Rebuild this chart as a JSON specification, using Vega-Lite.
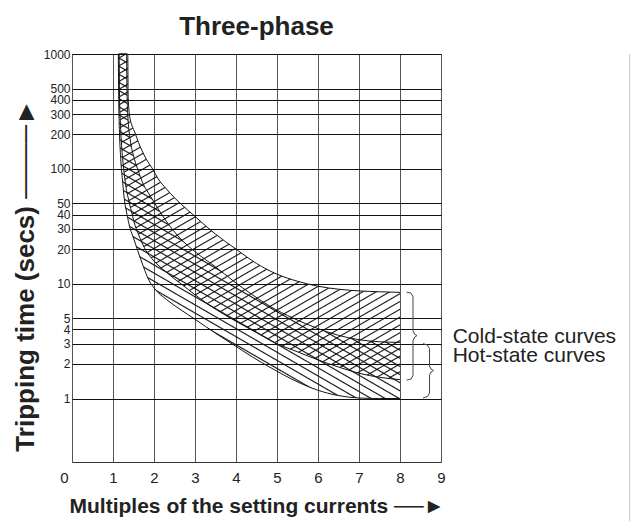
{
"$schema":"https://vega.github.io/schema/vega-lite/v6.json",
"width":369,"height":408,
"autosize":"none",
"padding":{"left":72,"top":54,"right":191,"bottom":59},
"background":"white",
"config":{"view":{"stroke":"#333","strokeWidth":1},"font":"Liberation Sans"},
"title":{"text":"Three-phase","fontSize":26,"fontWeight":"bold","color":"#222","frame":"group","anchor":"middle","baseline":"alphabetic","offset":-13},
"datasets":{
"bands":[
{"band":"cold","x":1.15,"hi":1000,"lo":1000},
{"band":"cold","x":1.16,"hi":1000,"lo":400},
{"band":"cold","x":1.18,"hi":1000,"lo":250},
{"band":"cold","x":1.21,"hi":1000,"lo":160},
{"band":"cold","x":1.26,"hi":1000,"lo":100},
{"band":"cold","x":1.33,"hi":1000,"lo":65},
{"band":"cold","x":1.36,"hi":1000,"lo":58},
{"band":"cold","x":1.37,"hi":420,"lo":56},
{"band":"cold","x":1.40,"hi":300,"lo":50},
{"band":"cold","x":1.46,"hi":240,"lo":41},
{"band":"cold","x":1.54,"hi":205,"lo":32},
{"band":"cold","x":1.62,"hi":170,"lo":27},
{"band":"cold","x":1.70,"hi":146,"lo":23},
{"band":"cold","x":1.82,"hi":120,"lo":19},
{"band":"cold","x":1.95,"hi":102,"lo":16.5},
{"band":"cold","x":2.10,"hi":82,"lo":14.5},
{"band":"cold","x":2.30,"hi":67,"lo":12.6},
{"band":"cold","x":2.50,"hi":56,"lo":11},
{"band":"cold","x":2.67,"hi":49,"lo":9.9},
{"band":"cold","x":3.00,"hi":38.5,"lo":8.0},
{"band":"cold","x":3.50,"hi":27,"lo":6.0},
{"band":"cold","x":4.00,"hi":20,"lo":4.7},
{"band":"cold","x":4.50,"hi":15,"lo":3.75},
{"band":"cold","x":5.00,"hi":12.1,"lo":3.0},
{"band":"cold","x":5.50,"hi":10.5,"lo":2.55},
{"band":"cold","x":6.00,"hi":9.5,"lo":2.17},
{"band":"cold","x":6.50,"hi":8.95,"lo":1.88},
{"band":"cold","x":7.00,"hi":8.65,"lo":1.66},
{"band":"cold","x":7.50,"hi":8.5,"lo":1.53},
{"band":"cold","x":8.00,"hi":8.4,"lo":1.46},
{"band":"hot","x":1.13,"hi":1000,"lo":1000},
{"band":"hot","x":1.14,"hi":1000,"lo":400},
{"band":"hot","x":1.16,"hi":1000,"lo":200},
{"band":"hot","x":1.19,"hi":1000,"lo":120},
{"band":"hot","x":1.23,"hi":1000,"lo":80},
{"band":"hot","x":1.29,"hi":1000,"lo":50},
{"band":"hot","x":1.33,"hi":1000,"lo":42},
{"band":"hot","x":1.34,"hi":500,"lo":40},
{"band":"hot","x":1.36,"hi":300,"lo":37},
{"band":"hot","x":1.42,"hi":180,"lo":30},
{"band":"hot","x":1.50,"hi":130,"lo":25},
{"band":"hot","x":1.60,"hi":100,"lo":19.5},
{"band":"hot","x":1.75,"hi":72,"lo":13.8},
{"band":"hot","x":1.86,"hi":62,"lo":11},
{"band":"hot","x":2.02,"hi":50,"lo":9.0},
{"band":"hot","x":2.30,"hi":35,"lo":7.3},
{"band":"hot","x":2.63,"hi":25,"lo":6.0},
{"band":"hot","x":3.00,"hi":19,"lo":4.9},
{"band":"hot","x":3.50,"hi":14,"lo":3.7},
{"band":"hot","x":3.93,"hi":10.6,"lo":2.95},
{"band":"hot","x":4.40,"hi":8.0,"lo":2.3},
{"band":"hot","x":4.83,"hi":6.35,"lo":1.87},
{"band":"hot","x":5.40,"hi":5.0,"lo":1.45},
{"band":"hot","x":5.97,"hi":4.1,"lo":1.19},
{"band":"hot","x":6.50,"hi":3.55,"lo":1.06},
{"band":"hot","x":7.00,"hi":3.25,"lo":1.01},
{"band":"hot","x":7.50,"hi":3.12,"lo":1.0},
{"band":"hot","x":8.00,"hi":3.08,"lo":1.0}
],
"braces":[
{"b":"cold","i":1,"x":8.159,"t":8.44},
{"b":"cold","i":2,"x":8.268,"t":8.27},
{"b":"cold","i":3,"x":8.317,"t":7.71},
{"b":"cold","i":4,"x":8.317,"t":3.90},
{"b":"cold","i":5,"x":8.354,"t":3.64},
{"b":"cold","i":6,"x":8.415,"t":3.53},
{"b":"cold","i":7,"x":8.354,"t":3.42},
{"b":"cold","i":8,"x":8.317,"t":3.19},
{"b":"cold","i":9,"x":8.317,"t":1.585},
{"b":"cold","i":10,"x":8.268,"t":1.477},
{"b":"cold","i":11,"x":8.159,"t":1.448},
{"b":"hot","i":1,"x":8.561,"t":3.008},
{"b":"hot","i":2,"x":8.671,"t":2.919},
{"b":"hot","i":3,"x":8.720,"t":2.722},
{"b":"hot","i":4,"x":8.720,"t":1.918},
{"b":"hot","i":5,"x":8.756,"t":1.805},
{"b":"hot","i":6,"x":8.817,"t":1.752},
{"b":"hot","i":7,"x":8.756,"t":1.700},
{"b":"hot","i":8,"x":8.720,"t":1.601},
{"b":"hot","i":9,"x":8.720,"t":1.116},
{"b":"hot","i":10,"x":8.671,"t":1.041},
{"b":"hot","i":11,"x":8.561,"t":1.010}
],
"labels":[
{"label":"Cold-state curves","x":9.285,"t":3.04},
{"label":"Hot-state curves","x":9.285,"t":2.08}
],
"edge":[{"x":13.6,"t":0.08,"t2":1000}]
},
"layer":[
{"data":{"name":"bands"},
 "transform":[{"filter":"datum.band === 'cold'"}],
 "mark":{"type":"area","interpolate":"monotone","color":{"gradient":"linear","x1":0,"y1":0,"x2":0.598,"y2":1.2,"stops":[
{"offset":0.0055,"color":"rgba(0,0,0,0)"},{"offset":0.008,"color":"#111"},{"offset":0.0105,"color":"rgba(0,0,0,0)"},
{"offset":0.0215,"color":"rgba(0,0,0,0)"},{"offset":0.024,"color":"#111"},{"offset":0.0265,"color":"rgba(0,0,0,0)"},
{"offset":0.0375,"color":"rgba(0,0,0,0)"},{"offset":0.04,"color":"#111"},{"offset":0.0425,"color":"rgba(0,0,0,0)"},
{"offset":0.0535,"color":"rgba(0,0,0,0)"},{"offset":0.056,"color":"#111"},{"offset":0.0585,"color":"rgba(0,0,0,0)"},
{"offset":0.0695,"color":"rgba(0,0,0,0)"},{"offset":0.072,"color":"#111"},{"offset":0.0745,"color":"rgba(0,0,0,0)"},
{"offset":0.0855,"color":"rgba(0,0,0,0)"},{"offset":0.088,"color":"#111"},{"offset":0.0905,"color":"rgba(0,0,0,0)"},
{"offset":0.1015,"color":"rgba(0,0,0,0)"},{"offset":0.104,"color":"#111"},{"offset":0.1065,"color":"rgba(0,0,0,0)"},
{"offset":0.1175,"color":"rgba(0,0,0,0)"},{"offset":0.12,"color":"#111"},{"offset":0.1225,"color":"rgba(0,0,0,0)"},
{"offset":0.1335,"color":"rgba(0,0,0,0)"},{"offset":0.136,"color":"#111"},{"offset":0.1385,"color":"rgba(0,0,0,0)"},
{"offset":0.1495,"color":"rgba(0,0,0,0)"},{"offset":0.152,"color":"#111"},{"offset":0.1545,"color":"rgba(0,0,0,0)"},
{"offset":0.1655,"color":"rgba(0,0,0,0)"},{"offset":0.168,"color":"#111"},{"offset":0.1705,"color":"rgba(0,0,0,0)"},
{"offset":0.1815,"color":"rgba(0,0,0,0)"},{"offset":0.184,"color":"#111"},{"offset":0.1865,"color":"rgba(0,0,0,0)"},
{"offset":0.1975,"color":"rgba(0,0,0,0)"},{"offset":0.2,"color":"#111"},{"offset":0.2025,"color":"rgba(0,0,0,0)"},
{"offset":0.2135,"color":"rgba(0,0,0,0)"},{"offset":0.216,"color":"#111"},{"offset":0.2185,"color":"rgba(0,0,0,0)"},
{"offset":0.2295,"color":"rgba(0,0,0,0)"},{"offset":0.232,"color":"#111"},{"offset":0.2345,"color":"rgba(0,0,0,0)"},
{"offset":0.2455,"color":"rgba(0,0,0,0)"},{"offset":0.248,"color":"#111"},{"offset":0.2505,"color":"rgba(0,0,0,0)"},
{"offset":0.2615,"color":"rgba(0,0,0,0)"},{"offset":0.264,"color":"#111"},{"offset":0.2665,"color":"rgba(0,0,0,0)"},
{"offset":0.2775,"color":"rgba(0,0,0,0)"},{"offset":0.28,"color":"#111"},{"offset":0.2825,"color":"rgba(0,0,0,0)"},
{"offset":0.2935,"color":"rgba(0,0,0,0)"},{"offset":0.296,"color":"#111"},{"offset":0.2985,"color":"rgba(0,0,0,0)"},
{"offset":0.3095,"color":"rgba(0,0,0,0)"},{"offset":0.312,"color":"#111"},{"offset":0.3145,"color":"rgba(0,0,0,0)"},
{"offset":0.3255,"color":"rgba(0,0,0,0)"},{"offset":0.328,"color":"#111"},{"offset":0.3305,"color":"rgba(0,0,0,0)"},
{"offset":0.3415,"color":"rgba(0,0,0,0)"},{"offset":0.344,"color":"#111"},{"offset":0.3465,"color":"rgba(0,0,0,0)"},
{"offset":0.3575,"color":"rgba(0,0,0,0)"},{"offset":0.36,"color":"#111"},{"offset":0.3625,"color":"rgba(0,0,0,0)"},
{"offset":0.3735,"color":"rgba(0,0,0,0)"},{"offset":0.376,"color":"#111"},{"offset":0.3785,"color":"rgba(0,0,0,0)"},
{"offset":0.3895,"color":"rgba(0,0,0,0)"},{"offset":0.392,"color":"#111"},{"offset":0.3945,"color":"rgba(0,0,0,0)"},
{"offset":0.4055,"color":"rgba(0,0,0,0)"},{"offset":0.408,"color":"#111"},{"offset":0.4105,"color":"rgba(0,0,0,0)"},
{"offset":0.4215,"color":"rgba(0,0,0,0)"},{"offset":0.424,"color":"#111"},{"offset":0.4265,"color":"rgba(0,0,0,0)"},
{"offset":0.4375,"color":"rgba(0,0,0,0)"},{"offset":0.44,"color":"#111"},{"offset":0.4425,"color":"rgba(0,0,0,0)"},
{"offset":0.4535,"color":"rgba(0,0,0,0)"},{"offset":0.456,"color":"#111"},{"offset":0.4585,"color":"rgba(0,0,0,0)"},
{"offset":0.4695,"color":"rgba(0,0,0,0)"},{"offset":0.472,"color":"#111"},{"offset":0.4745,"color":"rgba(0,0,0,0)"},
{"offset":0.4855,"color":"rgba(0,0,0,0)"},{"offset":0.488,"color":"#111"},{"offset":0.4905,"color":"rgba(0,0,0,0)"},
{"offset":0.5015,"color":"rgba(0,0,0,0)"},{"offset":0.504,"color":"#111"},{"offset":0.5065,"color":"rgba(0,0,0,0)"},
{"offset":0.5175,"color":"rgba(0,0,0,0)"},{"offset":0.52,"color":"#111"},{"offset":0.5225,"color":"rgba(0,0,0,0)"},
{"offset":0.5335,"color":"rgba(0,0,0,0)"},{"offset":0.536,"color":"#111"},{"offset":0.5385,"color":"rgba(0,0,0,0)"},
{"offset":0.5495,"color":"rgba(0,0,0,0)"},{"offset":0.552,"color":"#111"},{"offset":0.5545,"color":"rgba(0,0,0,0)"},
{"offset":0.5655,"color":"rgba(0,0,0,0)"},{"offset":0.568,"color":"#111"},{"offset":0.5705,"color":"rgba(0,0,0,0)"},
{"offset":0.5815,"color":"rgba(0,0,0,0)"},{"offset":0.584,"color":"#111"},{"offset":0.5865,"color":"rgba(0,0,0,0)"},
{"offset":0.5975,"color":"rgba(0,0,0,0)"},{"offset":0.6,"color":"#111"},{"offset":0.6025,"color":"rgba(0,0,0,0)"},
{"offset":0.6135,"color":"rgba(0,0,0,0)"},{"offset":0.616,"color":"#111"},{"offset":0.6185,"color":"rgba(0,0,0,0)"},
{"offset":0.6295,"color":"rgba(0,0,0,0)"},{"offset":0.632,"color":"#111"},{"offset":0.6345,"color":"rgba(0,0,0,0)"},
{"offset":0.6455,"color":"rgba(0,0,0,0)"},{"offset":0.648,"color":"#111"},{"offset":0.6505,"color":"rgba(0,0,0,0)"},
{"offset":0.6615,"color":"rgba(0,0,0,0)"},{"offset":0.664,"color":"#111"},{"offset":0.6665,"color":"rgba(0,0,0,0)"},
{"offset":0.6775,"color":"rgba(0,0,0,0)"},{"offset":0.68,"color":"#111"},{"offset":0.6825,"color":"rgba(0,0,0,0)"},
{"offset":0.6935,"color":"rgba(0,0,0,0)"},{"offset":0.696,"color":"#111"},{"offset":0.6985,"color":"rgba(0,0,0,0)"},
{"offset":0.7095,"color":"rgba(0,0,0,0)"},{"offset":0.712,"color":"#111"},{"offset":0.7145,"color":"rgba(0,0,0,0)"},
{"offset":0.7255,"color":"rgba(0,0,0,0)"},{"offset":0.728,"color":"#111"},{"offset":0.7305,"color":"rgba(0,0,0,0)"},
{"offset":0.7415,"color":"rgba(0,0,0,0)"},{"offset":0.744,"color":"#111"},{"offset":0.7465,"color":"rgba(0,0,0,0)"},
{"offset":0.7575,"color":"rgba(0,0,0,0)"},{"offset":0.76,"color":"#111"},{"offset":0.7625,"color":"rgba(0,0,0,0)"},
{"offset":0.7735,"color":"rgba(0,0,0,0)"},{"offset":0.776,"color":"#111"},{"offset":0.7785,"color":"rgba(0,0,0,0)"},
{"offset":0.7895,"color":"rgba(0,0,0,0)"},{"offset":0.792,"color":"#111"},{"offset":0.7945,"color":"rgba(0,0,0,0)"},
{"offset":0.8055,"color":"rgba(0,0,0,0)"},{"offset":0.808,"color":"#111"},{"offset":0.8105,"color":"rgba(0,0,0,0)"},
{"offset":0.8215,"color":"rgba(0,0,0,0)"},{"offset":0.824,"color":"#111"},{"offset":0.8265,"color":"rgba(0,0,0,0)"},
{"offset":0.8375,"color":"rgba(0,0,0,0)"},{"offset":0.84,"color":"#111"},{"offset":0.8425,"color":"rgba(0,0,0,0)"},
{"offset":0.8535,"color":"rgba(0,0,0,0)"},{"offset":0.856,"color":"#111"},{"offset":0.8585,"color":"rgba(0,0,0,0)"},
{"offset":0.8695,"color":"rgba(0,0,0,0)"},{"offset":0.872,"color":"#111"},{"offset":0.8745,"color":"rgba(0,0,0,0)"},
{"offset":0.8855,"color":"rgba(0,0,0,0)"},{"offset":0.888,"color":"#111"},{"offset":0.8905,"color":"rgba(0,0,0,0)"},
{"offset":0.9015,"color":"rgba(0,0,0,0)"},{"offset":0.904,"color":"#111"},{"offset":0.9065,"color":"rgba(0,0,0,0)"},
{"offset":0.9175,"color":"rgba(0,0,0,0)"},{"offset":0.92,"color":"#111"},{"offset":0.9225,"color":"rgba(0,0,0,0)"},
{"offset":0.9335,"color":"rgba(0,0,0,0)"},{"offset":0.936,"color":"#111"},{"offset":0.9385,"color":"rgba(0,0,0,0)"},
{"offset":0.9495,"color":"rgba(0,0,0,0)"},{"offset":0.952,"color":"#111"},{"offset":0.9545,"color":"rgba(0,0,0,0)"},
{"offset":0.9655,"color":"rgba(0,0,0,0)"},{"offset":0.968,"color":"#111"},{"offset":0.9705,"color":"rgba(0,0,0,0)"},
{"offset":0.9815,"color":"rgba(0,0,0,0)"},{"offset":0.984,"color":"#111"},{"offset":0.9865,"color":"rgba(0,0,0,0)"}
]}},
 "encoding":{
  "x":{"field":"x","type":"quantitative","scale":{"domain":[0,9],"nice":false,"zero":false},
   "axis":{"title":"Multiples of the setting currents ──►","values":[0,1,2,3,4,5,6,7,8,9],"grid":true,"gridColor":"#555","gridWidth":1,"ticks":false,"tickSize":0,"domain":false,"labelFontSize":15,"labelColor":"#222","labelPadding":20,"labelBaseline":"alphabetic","labelFlush":false,"labelOverlap":false,"labelOffset":{"condition":{"test":"datum.value === 0","value":-8},"value":0},"titleFontSize":21,"titleFontWeight":"bold","titleColor":"#222","titleBaseline":"alphabetic","titleX":184.5,"titleY":50}},
  "y":{"field":"hi","type":"quantitative","scale":{"type":"log","domain":[0.28,1000],"nice":false},
   "axis":{"title":"Tripping time (secs) ────►","values":[1,2,3,4,5,10,20,30,40,50,100,200,300,400,500,1000],"format":"d","grid":true,"gridColor":"#111","gridWidth":1,"ticks":false,"tickSize":0,"domain":false,"labelFontSize":12,"labelColor":"#222","labelPadding":2,"labelFlush":false,"labelOverlap":false,"titleFontSize":26,"titleFontWeight":"bold","titleColor":"#222","titleBaseline":"alphabetic","titleAngle":270,"titleX":-38.5,"titleY":221}},
  "y2":{"field":"lo"}
 }},
{"data":{"name":"bands"},
 "transform":[{"filter":"datum.band === 'hot'"}],
 "mark":{"type":"area","interpolate":"monotone","color":{"gradient":"linear","x1":1,"y1":0,"x2":0.4315,"y2":1.2039,"stops":[
{"offset":0.0055,"color":"rgba(0,0,0,0)"},{"offset":0.008,"color":"#111"},{"offset":0.0105,"color":"rgba(0,0,0,0)"},
{"offset":0.0215,"color":"rgba(0,0,0,0)"},{"offset":0.024,"color":"#111"},{"offset":0.0265,"color":"rgba(0,0,0,0)"},
{"offset":0.0375,"color":"rgba(0,0,0,0)"},{"offset":0.04,"color":"#111"},{"offset":0.0425,"color":"rgba(0,0,0,0)"},
{"offset":0.0535,"color":"rgba(0,0,0,0)"},{"offset":0.056,"color":"#111"},{"offset":0.0585,"color":"rgba(0,0,0,0)"},
{"offset":0.0695,"color":"rgba(0,0,0,0)"},{"offset":0.072,"color":"#111"},{"offset":0.0745,"color":"rgba(0,0,0,0)"},
{"offset":0.0855,"color":"rgba(0,0,0,0)"},{"offset":0.088,"color":"#111"},{"offset":0.0905,"color":"rgba(0,0,0,0)"},
{"offset":0.1015,"color":"rgba(0,0,0,0)"},{"offset":0.104,"color":"#111"},{"offset":0.1065,"color":"rgba(0,0,0,0)"},
{"offset":0.1175,"color":"rgba(0,0,0,0)"},{"offset":0.12,"color":"#111"},{"offset":0.1225,"color":"rgba(0,0,0,0)"},
{"offset":0.1335,"color":"rgba(0,0,0,0)"},{"offset":0.136,"color":"#111"},{"offset":0.1385,"color":"rgba(0,0,0,0)"},
{"offset":0.1495,"color":"rgba(0,0,0,0)"},{"offset":0.152,"color":"#111"},{"offset":0.1545,"color":"rgba(0,0,0,0)"},
{"offset":0.1655,"color":"rgba(0,0,0,0)"},{"offset":0.168,"color":"#111"},{"offset":0.1705,"color":"rgba(0,0,0,0)"},
{"offset":0.1815,"color":"rgba(0,0,0,0)"},{"offset":0.184,"color":"#111"},{"offset":0.1865,"color":"rgba(0,0,0,0)"},
{"offset":0.1975,"color":"rgba(0,0,0,0)"},{"offset":0.2,"color":"#111"},{"offset":0.2025,"color":"rgba(0,0,0,0)"},
{"offset":0.2135,"color":"rgba(0,0,0,0)"},{"offset":0.216,"color":"#111"},{"offset":0.2185,"color":"rgba(0,0,0,0)"},
{"offset":0.2295,"color":"rgba(0,0,0,0)"},{"offset":0.232,"color":"#111"},{"offset":0.2345,"color":"rgba(0,0,0,0)"},
{"offset":0.2455,"color":"rgba(0,0,0,0)"},{"offset":0.248,"color":"#111"},{"offset":0.2505,"color":"rgba(0,0,0,0)"},
{"offset":0.2615,"color":"rgba(0,0,0,0)"},{"offset":0.264,"color":"#111"},{"offset":0.2665,"color":"rgba(0,0,0,0)"},
{"offset":0.2775,"color":"rgba(0,0,0,0)"},{"offset":0.28,"color":"#111"},{"offset":0.2825,"color":"rgba(0,0,0,0)"},
{"offset":0.2935,"color":"rgba(0,0,0,0)"},{"offset":0.296,"color":"#111"},{"offset":0.2985,"color":"rgba(0,0,0,0)"},
{"offset":0.3095,"color":"rgba(0,0,0,0)"},{"offset":0.312,"color":"#111"},{"offset":0.3145,"color":"rgba(0,0,0,0)"},
{"offset":0.3255,"color":"rgba(0,0,0,0)"},{"offset":0.328,"color":"#111"},{"offset":0.3305,"color":"rgba(0,0,0,0)"},
{"offset":0.3415,"color":"rgba(0,0,0,0)"},{"offset":0.344,"color":"#111"},{"offset":0.3465,"color":"rgba(0,0,0,0)"},
{"offset":0.3575,"color":"rgba(0,0,0,0)"},{"offset":0.36,"color":"#111"},{"offset":0.3625,"color":"rgba(0,0,0,0)"},
{"offset":0.3735,"color":"rgba(0,0,0,0)"},{"offset":0.376,"color":"#111"},{"offset":0.3785,"color":"rgba(0,0,0,0)"},
{"offset":0.3895,"color":"rgba(0,0,0,0)"},{"offset":0.392,"color":"#111"},{"offset":0.3945,"color":"rgba(0,0,0,0)"},
{"offset":0.4055,"color":"rgba(0,0,0,0)"},{"offset":0.408,"color":"#111"},{"offset":0.4105,"color":"rgba(0,0,0,0)"},
{"offset":0.4215,"color":"rgba(0,0,0,0)"},{"offset":0.424,"color":"#111"},{"offset":0.4265,"color":"rgba(0,0,0,0)"},
{"offset":0.4375,"color":"rgba(0,0,0,0)"},{"offset":0.44,"color":"#111"},{"offset":0.4425,"color":"rgba(0,0,0,0)"},
{"offset":0.4535,"color":"rgba(0,0,0,0)"},{"offset":0.456,"color":"#111"},{"offset":0.4585,"color":"rgba(0,0,0,0)"},
{"offset":0.4695,"color":"rgba(0,0,0,0)"},{"offset":0.472,"color":"#111"},{"offset":0.4745,"color":"rgba(0,0,0,0)"},
{"offset":0.4855,"color":"rgba(0,0,0,0)"},{"offset":0.488,"color":"#111"},{"offset":0.4905,"color":"rgba(0,0,0,0)"},
{"offset":0.5015,"color":"rgba(0,0,0,0)"},{"offset":0.504,"color":"#111"},{"offset":0.5065,"color":"rgba(0,0,0,0)"},
{"offset":0.5175,"color":"rgba(0,0,0,0)"},{"offset":0.52,"color":"#111"},{"offset":0.5225,"color":"rgba(0,0,0,0)"},
{"offset":0.5335,"color":"rgba(0,0,0,0)"},{"offset":0.536,"color":"#111"},{"offset":0.5385,"color":"rgba(0,0,0,0)"},
{"offset":0.5495,"color":"rgba(0,0,0,0)"},{"offset":0.552,"color":"#111"},{"offset":0.5545,"color":"rgba(0,0,0,0)"},
{"offset":0.5655,"color":"rgba(0,0,0,0)"},{"offset":0.568,"color":"#111"},{"offset":0.5705,"color":"rgba(0,0,0,0)"},
{"offset":0.5815,"color":"rgba(0,0,0,0)"},{"offset":0.584,"color":"#111"},{"offset":0.5865,"color":"rgba(0,0,0,0)"},
{"offset":0.5975,"color":"rgba(0,0,0,0)"},{"offset":0.6,"color":"#111"},{"offset":0.6025,"color":"rgba(0,0,0,0)"},
{"offset":0.6135,"color":"rgba(0,0,0,0)"},{"offset":0.616,"color":"#111"},{"offset":0.6185,"color":"rgba(0,0,0,0)"},
{"offset":0.6295,"color":"rgba(0,0,0,0)"},{"offset":0.632,"color":"#111"},{"offset":0.6345,"color":"rgba(0,0,0,0)"},
{"offset":0.6455,"color":"rgba(0,0,0,0)"},{"offset":0.648,"color":"#111"},{"offset":0.6505,"color":"rgba(0,0,0,0)"},
{"offset":0.6615,"color":"rgba(0,0,0,0)"},{"offset":0.664,"color":"#111"},{"offset":0.6665,"color":"rgba(0,0,0,0)"},
{"offset":0.6775,"color":"rgba(0,0,0,0)"},{"offset":0.68,"color":"#111"},{"offset":0.6825,"color":"rgba(0,0,0,0)"},
{"offset":0.6935,"color":"rgba(0,0,0,0)"},{"offset":0.696,"color":"#111"},{"offset":0.6985,"color":"rgba(0,0,0,0)"},
{"offset":0.7095,"color":"rgba(0,0,0,0)"},{"offset":0.712,"color":"#111"},{"offset":0.7145,"color":"rgba(0,0,0,0)"},
{"offset":0.7255,"color":"rgba(0,0,0,0)"},{"offset":0.728,"color":"#111"},{"offset":0.7305,"color":"rgba(0,0,0,0)"},
{"offset":0.7415,"color":"rgba(0,0,0,0)"},{"offset":0.744,"color":"#111"},{"offset":0.7465,"color":"rgba(0,0,0,0)"},
{"offset":0.7575,"color":"rgba(0,0,0,0)"},{"offset":0.76,"color":"#111"},{"offset":0.7625,"color":"rgba(0,0,0,0)"},
{"offset":0.7735,"color":"rgba(0,0,0,0)"},{"offset":0.776,"color":"#111"},{"offset":0.7785,"color":"rgba(0,0,0,0)"},
{"offset":0.7895,"color":"rgba(0,0,0,0)"},{"offset":0.792,"color":"#111"},{"offset":0.7945,"color":"rgba(0,0,0,0)"},
{"offset":0.8055,"color":"rgba(0,0,0,0)"},{"offset":0.808,"color":"#111"},{"offset":0.8105,"color":"rgba(0,0,0,0)"},
{"offset":0.8215,"color":"rgba(0,0,0,0)"},{"offset":0.824,"color":"#111"},{"offset":0.8265,"color":"rgba(0,0,0,0)"},
{"offset":0.8375,"color":"rgba(0,0,0,0)"},{"offset":0.84,"color":"#111"},{"offset":0.8425,"color":"rgba(0,0,0,0)"},
{"offset":0.8535,"color":"rgba(0,0,0,0)"},{"offset":0.856,"color":"#111"},{"offset":0.8585,"color":"rgba(0,0,0,0)"},
{"offset":0.8695,"color":"rgba(0,0,0,0)"},{"offset":0.872,"color":"#111"},{"offset":0.8745,"color":"rgba(0,0,0,0)"},
{"offset":0.8855,"color":"rgba(0,0,0,0)"},{"offset":0.888,"color":"#111"},{"offset":0.8905,"color":"rgba(0,0,0,0)"},
{"offset":0.9015,"color":"rgba(0,0,0,0)"},{"offset":0.904,"color":"#111"},{"offset":0.9065,"color":"rgba(0,0,0,0)"},
{"offset":0.9175,"color":"rgba(0,0,0,0)"},{"offset":0.92,"color":"#111"},{"offset":0.9225,"color":"rgba(0,0,0,0)"},
{"offset":0.9335,"color":"rgba(0,0,0,0)"},{"offset":0.936,"color":"#111"},{"offset":0.9385,"color":"rgba(0,0,0,0)"},
{"offset":0.9495,"color":"rgba(0,0,0,0)"},{"offset":0.952,"color":"#111"},{"offset":0.9545,"color":"rgba(0,0,0,0)"},
{"offset":0.9655,"color":"rgba(0,0,0,0)"},{"offset":0.968,"color":"#111"},{"offset":0.9705,"color":"rgba(0,0,0,0)"},
{"offset":0.9815,"color":"rgba(0,0,0,0)"},{"offset":0.984,"color":"#111"},{"offset":0.9865,"color":"rgba(0,0,0,0)"}
]}},
 "encoding":{
  "x":{"field":"x","type":"quantitative","scale":{"domain":[0,9],"nice":false,"zero":false},"title":"Multiples of the setting currents ──►"},
  "y":{"field":"hi","type":"quantitative","scale":{"type":"log","domain":[0.28,1000],"nice":false},"title":"Tripping time (secs) ────►"},
  "y2":{"field":"lo"}
 }},
{"data":{"name":"bands"},
 "mark":{"type":"line","interpolate":"monotone","color":"#111","strokeWidth":1},
 "encoding":{
  "x":{"field":"x","type":"quantitative","scale":{"domain":[0,9],"nice":false,"zero":false},"title":"Multiples of the setting currents ──►"},
  "y":{"field":"hi","type":"quantitative","scale":{"type":"log","domain":[0.28,1000],"nice":false},"title":"Tripping time (secs) ────►"},
  "detail":{"field":"band","type":"nominal"}
 }},
{"data":{"name":"bands"},
 "mark":{"type":"line","interpolate":"monotone","color":"#111","strokeWidth":1},
 "encoding":{
  "x":{"field":"x","type":"quantitative","scale":{"domain":[0,9],"nice":false,"zero":false},"title":"Multiples of the setting currents ──►"},
  "y":{"field":"lo","type":"quantitative","scale":{"type":"log","domain":[0.28,1000],"nice":false},"title":"Tripping time (secs) ────►"},
  "detail":{"field":"band","type":"nominal"}
 }},
{"data":{"name":"braces"},
 "mark":{"type":"line","interpolate":"linear","color":"#444","strokeWidth":1},
 "encoding":{
  "x":{"field":"x","type":"quantitative","scale":{"domain":[0,9],"nice":false,"zero":false},"title":"Multiples of the setting currents ──►"},
  "y":{"field":"t","type":"quantitative","scale":{"type":"log","domain":[0.28,1000],"nice":false},"title":"Tripping time (secs) ────►"},
  "detail":{"field":"b","type":"nominal"},
  "order":{"field":"i","type":"quantitative"}
 }},
{"data":{"name":"labels"},
 "mark":{"type":"text","align":"left","baseline":"alphabetic","fontSize":21,"color":"#222"},
 "encoding":{
  "x":{"field":"x","type":"quantitative","scale":{"domain":[0,9],"nice":false,"zero":false},"title":"Multiples of the setting currents ──►"},
  "y":{"field":"t","type":"quantitative","scale":{"type":"log","domain":[0.28,1000],"nice":false},"title":"Tripping time (secs) ────►"},
  "text":{"field":"label","type":"nominal"}
 }},
{"data":{"name":"edge"},
 "mark":{"type":"rule","color":"#c8c8c8","strokeWidth":1},
 "encoding":{
  "x":{"field":"x","type":"quantitative","scale":{"domain":[0,9],"nice":false,"zero":false},"title":"Multiples of the setting currents ──►"},
  "y":{"field":"t","type":"quantitative","scale":{"type":"log","domain":[0.28,1000],"nice":false},"title":"Tripping time (secs) ────►"},
  "y2":{"field":"t2"}
 }}
]
}
